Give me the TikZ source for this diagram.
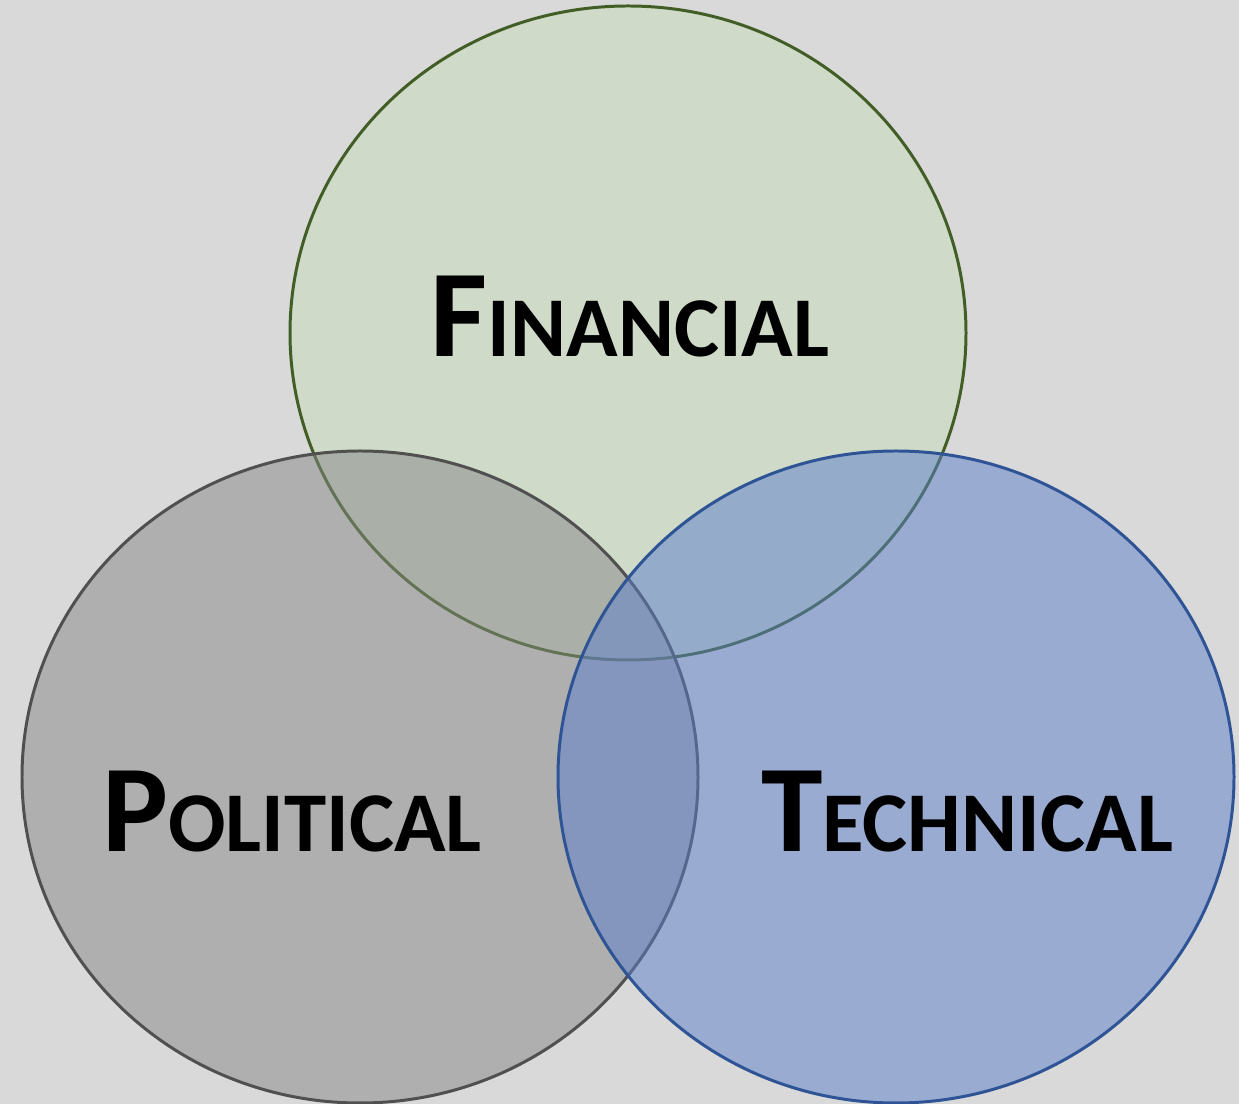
\documentclass[tikz,border=0pt]{standalone}
\usepackage{fontspec}
\setmainfont{Carlito}
\begin{document}
\begin{tikzpicture}[x=0.01cm,y=-0.01cm,
  ring/.style={line width=0.85pt,fill opacity=0.5},
  label/.style={anchor=base,inner sep=0pt,text=black}]
  \definecolor{bg}{RGB}{217,217,217}
  \definecolor{finfill}{RGB}{199,221,185}
  \definecolor{finline}{RGB}{66,94,38}
  \definecolor{polfill}{RGB}{135,135,135}
  \definecolor{polline}{RGB}{80,80,80}
  \definecolor{tecfill}{RGB}{91,127,203}
  \definecolor{tecline}{RGB}{47,84,150}
  \newcommand{\smallcap}[2]{{\fontsize{35.3}{36}\selectfont\bfseries #1}{\fontsize{24.2}{24}\selectfont\bfseries #2}}
  \fill[bg] (0,0) rectangle (1239,1104);
  \useasboundingbox (0,0) rectangle (1239,1104);
  % three overlapping circles, drawn back to front
  \draw[ring,draw=finline,fill=finfill] (628,333) ellipse [x radius=338,y radius=327];
  \draw[ring,draw=polline,fill=polfill] (360,777) ellipse [x radius=338,y radius=326];
  \draw[ring,draw=tecline,fill=tecfill] (896,777) ellipse [x radius=338,y radius=326];
  % labels
  \node[label] (fin) at (630,357) {\smallcap{F}{INANCIAL}};
  \node[label] (pol) at (292,852) {\smallcap{P}{OLITICAL}};
  \node[label] (tec) at (967,852) {\smallcap{T}{ECHNICAL}};
\end{tikzpicture}
\end{document}
